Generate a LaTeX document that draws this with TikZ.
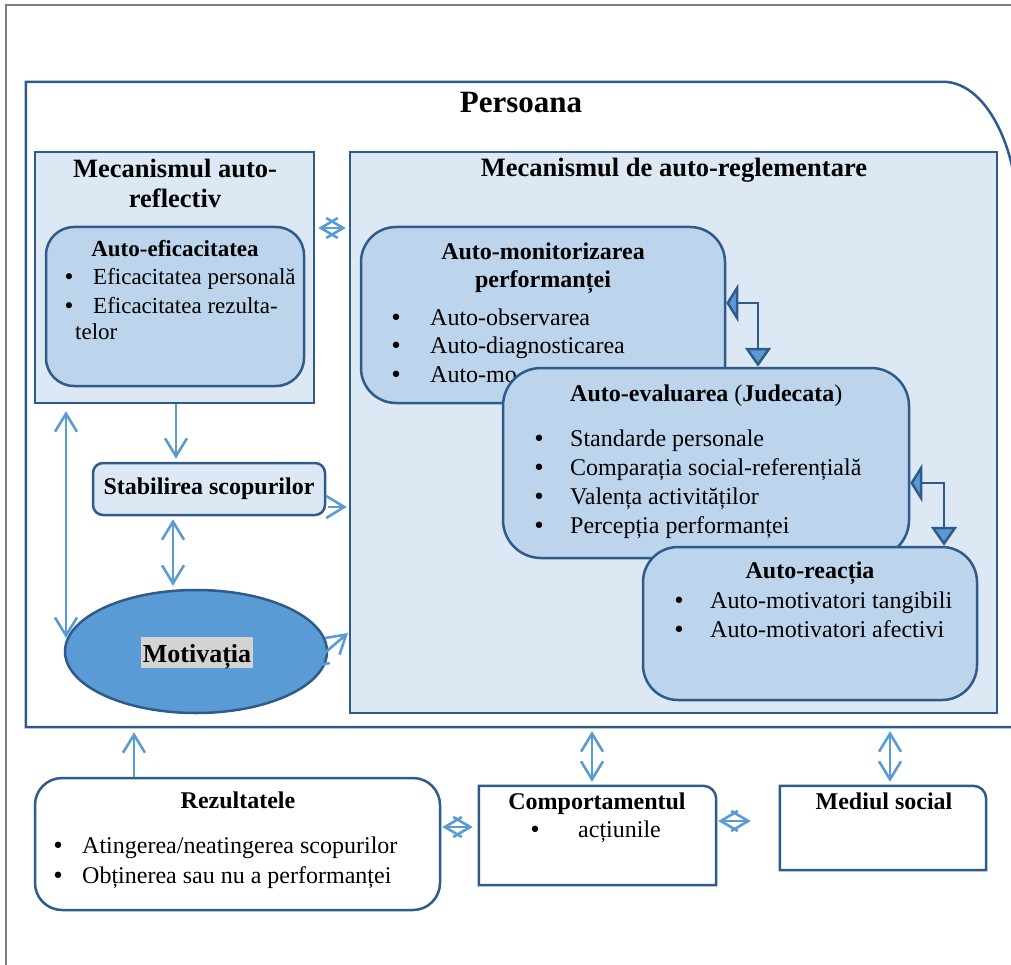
\documentclass[tikz,border=0pt]{standalone}
\usepackage{fontspec}
\setmainfont{Liberation Serif}
\newfontfamily\bulfont{DejaVu Sans}
\usetikzlibrary{arrows.meta,shapes.geometric}
\definecolor{dkb}{HTML}{2E5B8A}
\definecolor{lfill}{HTML}{DDE8F5}
\definecolor{mfill}{HTML}{BDD5EC}
\definecolor{mblue}{HTML}{5B9BD5}
\definecolor{frgray}{HTML}{808080}
\definecolor{hlgray}{HTML}{D3D3D3}
\newcommand\fsz[2]{\fontsize{#1pt}{#2pt}\selectfont}
\begin{document}
\begin{tikzpicture}[x=1pt,y=-1pt,
  lbox/.style={draw=dkb, fill=lfill, line width=2.5pt, inner sep=0pt},
  mbox/.style={draw=dkb, fill=mfill, line width=2.5pt, inner sep=0pt},
  wbox/.style={draw=dkb, fill=white, line width=2.5pt, inner sep=0pt},
  ph/.style={draw=none, fill=none, inner sep=0pt},
  hd/.style={inner sep=0pt, anchor=base, font={\fsz{26.5}{30}\bfseries}},
  sh/.style={inner sep=0pt, anchor=base, font={\fsz{24}{30}\bfseries}},
  tx/.style={inner sep=0pt, anchor=base west, font={\fsz{24}{30}}},
  bl/.style={inner sep=0pt, anchor=base, font={\bulfont\fsz{22}{26}}},
  txs/.style={inner sep=0pt, anchor=base west, font={\fsz{23}{27}}},
  bls/.style={inner sep=0pt, anchor=base, font={\bulfont\fsz{21}{25}}},
  la/.style={draw=mblue, line width=2.6pt, -{Straight Barb[length=18pt,width=22pt]}},
  lda/.style={draw=mblue, line width=2.6pt, {Straight Barb[length=18pt,width=22pt]}-{Straight Barb[length=18pt,width=22pt]}},
  ldia/.style={draw=mblue, line width=2.6pt, {Straight Barb[length=17pt,width=20pt]}-{Straight Barb[length=17pt,width=20pt]}},
  dk/.style={draw=dkb, line width=2.5pt, {Triangle[length=12pt,width=38pt,fill=mblue]}-{Triangle[length=19pt,width=26pt,fill=mblue]}},
]
\useasboundingbox (0,0) rectangle (1011,965);
\fill[white] (0,0) rectangle (1011,965);
\clip (0,0) rectangle (1011,965);
% outer gray frame
\draw[draw=frgray, line width=2pt] (6,1000) -- (6,5) -- (1100,5);

% Persoana
\node[ph, minimum width=992pt, minimum height=645pt] (pers) at (522,404.5) {};
\draw[draw=dkb, line width=2.5pt] (pers.south west) -- (pers.north west) -- ([xshift=-75pt]pers.north east) arc[start angle=90, end angle=0, x radius=75pt, y radius=140pt] -- (pers.south east) -- cycle;
\node[inner sep=0pt, anchor=base, font={\fsz{31}{34}\bfseries}] (perst) at (521,113) {Persoana};

% Mecanismul auto-reflectiv
\node[lbox, minimum width=279pt, minimum height=251pt] (ar) at (174.5,277.5) {};
\node[hd] (art1) at (175,178) {Mecanismul auto-};
\node[hd] (art2) at (175,208) {reflectiv};
\node[mbox, rounded corners=28pt, minimum width=258pt, minimum height=159pt] (eff) at (175,306.5) {};
\node[inner sep=0pt, anchor=base, font={\fsz{23}{27}\bfseries}] (efft) at (175,257) {Auto-eficacitatea};
\node[bls] (effb1) at (69,285) {•};
\node[txs] (eff1) at (93,285) {Eficacitatea personală};
\node[bls] (effb2) at (69,313) {•};
\node[txs] (eff2) at (93,313) {Eficacitatea rezulta-};
\node[txs] (eff3) at (75,339) {telor};

% Mecanismul de auto-reglementare
\node[lbox, minimum width=647pt, minimum height=561pt] (mr) at (673.5,432.5) {};
\node[hd] (mrt) at (674,177) {Mecanismul de auto-reglementare};

% Auto-monitorizarea
\node[mbox, rounded corners=35pt, minimum width=364pt, minimum height=176pt] (mon) at (543,315) {};
\node[sh] (mont1) at (543,260) {Auto-monitorizarea};
\node[sh] (mont2) at (543,288) {performanței};
\node[bl] (monb1) at (396,325) {•};
\node[tx] (mon1) at (430,325) {Auto-observarea};
\node[bl] (monb2) at (396,353) {•};
\node[tx] (mon2) at (430,353) {Auto-diagnosticarea};
\node[bl] (monb3) at (396,382) {•};
\node[tx] (mon3) at (430,382) {Auto-mo};

% Auto-evaluarea
\node[mbox, rounded corners=38pt, minimum width=406pt, minimum height=190pt] (eval) at (706,463) {};
\node[tx] (evt) at (570,401) {\textbf{Auto-evaluarea }(\textbf{Judecata})};
\node[bl] (evb1) at (539,446) {•};
\node[tx] (ev1) at (570,446) {Standarde personale};
\node[bl] (evb2) at (539,475) {•};
\node[tx] (ev2) at (570,475) {Comparația social-referențială};
\node[bl] (evb3) at (539,504) {•};
\node[tx] (ev3) at (570,504) {Valența activităților};
\node[bl] (evb4) at (539,533) {•};
\node[tx] (ev4) at (570,533) {Percepția performanței};

% Auto-reactia
\node[mbox, rounded corners=35pt, minimum width=334pt, minimum height=153pt] (reac) at (810,623.5) {};
\node[sh] (reat) at (810,578) {Auto-reacția};
\node[bl] (reb1) at (679,608) {•};
\node[tx] (re1) at (710,608) {Auto-motivatori tangibili};
\node[bl] (reb2) at (679,637) {•};
\node[tx] (re2) at (710,637) {Auto-motivatori afectivi};

% dark connectors
\draw[dk] (mon.east |- 0,303) -| (758,0 |- eval.north);
\draw[dk] (eval.east |- 0,483) -| (944,0 |- reac.north);

% Stabilirea scopurilor
\node[lbox, rounded corners=10pt, minimum width=232pt, minimum height=52pt, font={\fsz{24}{30}\bfseries}] (stab) at (209,489) {Stabilirea scopurilor};

% Motivatia
\node[ellipse, draw=dkb, fill=mblue, line width=2.5pt, minimum width=262pt, minimum height=123pt, inner sep=0pt] (mot) at (196,651.5) {};
\node[fill=hlgray, inner xsep=1.5pt, inner ysep=0pt, text height=25pt, text depth=6pt, anchor=base, font={\fsz{26}{30}\bfseries}] (mott) at (197,662) {Motivația};

% Rezultatele
\node[wbox, rounded corners=27pt, minimum width=405pt, minimum height=132pt] (rez) at (237.5,844) {};
\node[sh] (rezt) at (238,808) {Rezultatele};
\node[bl] (rezb1) at (58,853) {•};
\node[tx] (rez1) at (82,853) {Atingerea/neatingerea scopurilor};
\node[bl] (rezb2) at (58,883) {•};
\node[tx] (rez2) at (82,883) {Obținerea sau nu a performanței};

% Comportamentul
\node[ph, minimum width=237pt, minimum height=99pt] (comp) at (597.5,835.5) {};
\draw[draw=dkb, fill=white, line width=2.5pt] (comp.south west) -- (comp.north west) -- ([xshift=-13pt]comp.north east) arc[start angle=90, end angle=0, radius=13pt] -- (comp.south east) -- cycle;
\node[sh] (compt) at (597,809) {Comportamentul};
\node[bl] (compb) at (535,837) {•};
\node[tx] (comp1) at (578,837) {acțiunile};

% Mediul social
\node[ph, minimum width=206pt, minimum height=84pt] (med) at (883,828) {};
\draw[draw=dkb, fill=white, line width=2.5pt] (med.south west) -- (med.north west) -- ([xshift=-13pt]med.north east) arc[start angle=90, end angle=0, radius=13pt] -- (med.south east) -- cycle;
\node[sh] (medt) at (884,809) {Mediul social};

% light connectors
\draw[ldia, shorten <=3pt, shorten >=3pt] (ar.east |- 0,228) -- (mr.west |- 0,228);
\draw[la, shorten >=3pt] (176,0 |- ar.south) -- (176,0 |- stab.north);
\draw[la, shorten <=2pt, shorten >=2pt] (stab.east |- 0,507) -- (mr.west |- 0,507);
\draw[lda, shorten <=3pt, shorten >=3pt] (173,0 |- stab.south) -- (173,0 |- mot.north);
\coordinate (motL) at (66,638);
\draw[lda, shorten <=7pt] (66,0 |- ar.south) -- (motL);
\coordinate (dgA) at (307,668);
\coordinate (dgB) at (348,633);
\draw[lda] (dgA) -- (dgB);
\draw[la, shorten >=5pt] (134,0 |- rez.north) -- (134,0 |- pers.south);
\draw[lda, shorten <=4pt, shorten >=4pt] (592,0 |- pers.south) -- (592,0 |- comp.north);
\draw[lda, shorten <=4pt, shorten >=4pt] (890,0 |- pers.south) -- (890,0 |- med.north);
\draw[ldia, shorten <=1pt, shorten >=6pt] (rez.east |- 0,827) -- (comp.west |- 0,827);
\draw[ldia, shorten <=2pt, shorten >=29pt] (comp.east |- 0,821) -- (med.west |- 0,821);
\end{tikzpicture}
\end{document}
